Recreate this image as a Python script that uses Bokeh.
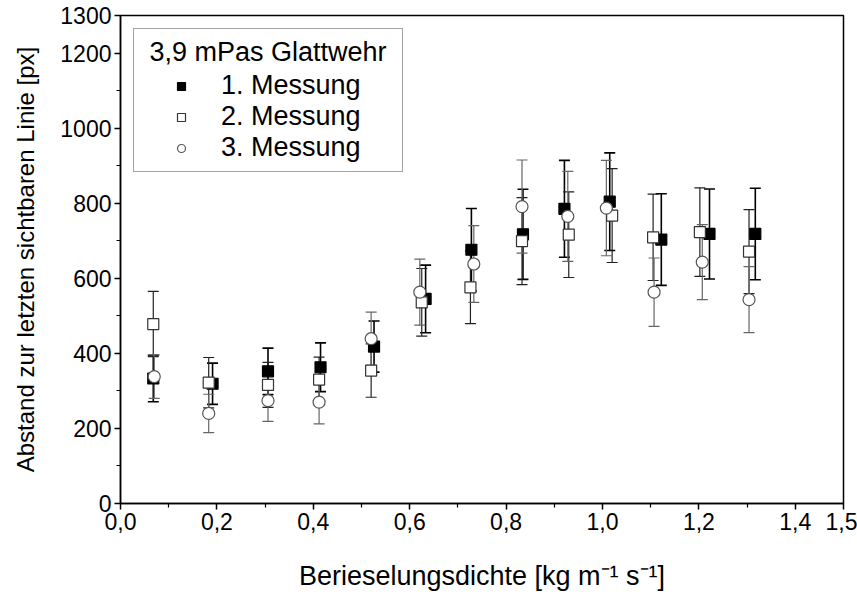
from bokeh.plotting import figure
from bokeh.models import (ColumnDataSource, Range1d, FixedTicker, Whisker, TeeHead,
                          Legend, LegendItem)
from bokeh.embed import file_html
from bokeh.resources import INLINE

# ---- data ----
x1 = [0.068, 0.191, 0.306, 0.415, 0.526, 0.633, 0.728, 0.835, 0.921, 1.015, 1.122, 1.222, 1.317]
y1 = [333, 319, 352, 363, 418, 545, 676, 717, 785, 804, 703, 718, 718]
e1 = [62, 55, 62, 65, 68, 90, 110, 120, 129, 130, 122, 120, 122]

x2 = [0.068, 0.183, 0.306, 0.412, 0.520, 0.625, 0.726, 0.833, 0.930, 1.020, 1.105, 1.202, 1.304]
y2 = [478, 322, 316, 330, 354, 536, 576, 699, 716, 767, 709, 723, 671]
e2 = [87, 67, 60, 60, 71, 90, 97, 116, 114, 125, 115, 118, 112]

x3 = [0.070, 0.183, 0.306, 0.412, 0.520, 0.621, 0.733, 0.833, 0.928, 1.008, 1.107, 1.207, 1.304]
y3 = [338, 240, 274, 270, 439, 563, 638, 791, 765, 787, 563, 643, 543]
e3 = [58, 51, 55, 58, 71, 88, 102, 124, 120, 127, 91, 100, 88]

series_names = ["1. Messung", "2. Messung", "3. Messung"]
legend_title = "3,9 mPas Glattwehr"
x_label = "Berieselungsdichte [kg m\u207b\u00b9 s\u207b\u00b9]"
y_label = "Abstand zur letzten sichtbaren Linie [px]"

x_ticks = [0.0, 0.2, 0.4, 0.6, 0.8, 1.0, 1.2, 1.4, 1.5]
x_minor = [0.1, 0.3, 0.5, 0.7, 0.9, 1.1, 1.3]
y_ticks = [0, 200, 400, 600, 800, 1000, 1200, 1300]
y_minor = [100, 300, 500, 700, 900, 1100]

FONT = "Liberation Sans"

p = figure(width=857, height=594, output_backend="svg", toolbar_location=None,
           x_range=Range1d(0, 1.5), y_range=Range1d(0, 1300),
           min_border_left=120, min_border_right=14, min_border_top=15, min_border_bottom=91)
p.grid.visible = False
p.outline_line_color = "black"
p.outline_line_width = 1.5
p.background_fill_color = "white"
p.border_fill_color = "white"

p.xaxis.ticker = FixedTicker(ticks=x_ticks, minor_ticks=x_minor)
p.yaxis.ticker = FixedTicker(ticks=y_ticks, minor_ticks=y_minor)
p.xaxis.major_label_overrides = {t: f"{t:.1f}".replace(".", ",") for t in x_ticks}
p.yaxis.major_label_overrides = {t: str(t) for t in y_ticks}

for ax in (p.xaxis[0], p.yaxis[0]):
    ax.axis_line_width = 1.5
    ax.major_tick_line_width = 1.5
    ax.minor_tick_line_width = 1.2
    ax.major_tick_out = 6
    ax.major_tick_in = 0
    ax.minor_tick_out = 4
    ax.minor_tick_in = 0
    ax.major_label_text_font = FONT
    ax.major_label_text_font_size = "23px"
    ax.major_label_text_color = "black"
    ax.axis_label_text_font = FONT
    ax.axis_label_text_font_style = "normal"
    ax.axis_label_text_color = "black"
    ax.major_label_standoff = 3

p.xaxis.axis_label = x_label
p.yaxis.axis_label = y_label
p.xaxis.axis_label_text_font_size = "27px"
p.yaxis.axis_label_text_font_size = "24px"
p.xaxis.axis_label_standoff = 28
p.yaxis.axis_label_standoff = 18

styles = [
    dict(marker="square", fill_color="black", line_color="black", size=11, ebar="black", ew=1.6),
    dict(marker="square", fill_color="white", line_color="#333333", size=11, ebar="#222222", ew=1.2),
    dict(marker="circle", fill_color="white", line_color="#555555", size=12, ebar="#666666", ew=1.2),
]

renderers = []
for xs, ys, es, st in zip((x1, x2, x3), (y1, y2, y3), (e1, e2, e3), styles):
    src = ColumnDataSource(dict(x=xs, y=ys,
                                lower=[a - b for a, b in zip(ys, es)],
                                upper=[a + b for a, b in zip(ys, es)]))
    w = Whisker(source=src, base="x", lower="lower", upper="upper", dimension="height",
                line_color=st["ebar"], line_width=st["ew"],
                upper_head=TeeHead(size=11, line_color=st["ebar"], line_width=st["ew"]),
                lower_head=TeeHead(size=11, line_color=st["ebar"], line_width=st["ew"]))
    p.add_layout(w)
for xs, ys, es, st in zip((x1, x2, x3), (y1, y2, y3), (e1, e2, e3), styles):
    src = ColumnDataSource(dict(x=xs, y=ys))
    r = p.scatter("x", "y", source=src, marker=st["marker"], size=st["size"],
                  fill_color=st["fill_color"], line_color=st["line_color"], line_width=1.2)
    renderers.append(r)

legend = Legend(items=[LegendItem(label=n, renderers=[r]) for n, r in zip(series_names, renderers)],
                location="top_left")
legend.title = "\u00a0" + legend_title + "\u00a0"
legend.title_text_font = FONT
legend.title_text_font_size = "27px"
legend.title_text_font_style = "normal"
legend.title_text_color = "black"
legend.title_standoff = 2
legend.label_text_font = FONT
legend.label_text_font_size = "27px"
legend.label_text_color = "black"
legend.border_line_color = "#444444"
legend.border_line_width = 1.2
legend.background_fill_alpha = 1
legend.margin = 13
legend.padding = 8
legend.spacing = 0
legend.glyph_width = 78
legend.glyph_height = 20
legend.label_height = 31
legend.label_standoff = 1
p.add_layout(legend)

open("out.html", "w").write(file_html(p, INLINE))
